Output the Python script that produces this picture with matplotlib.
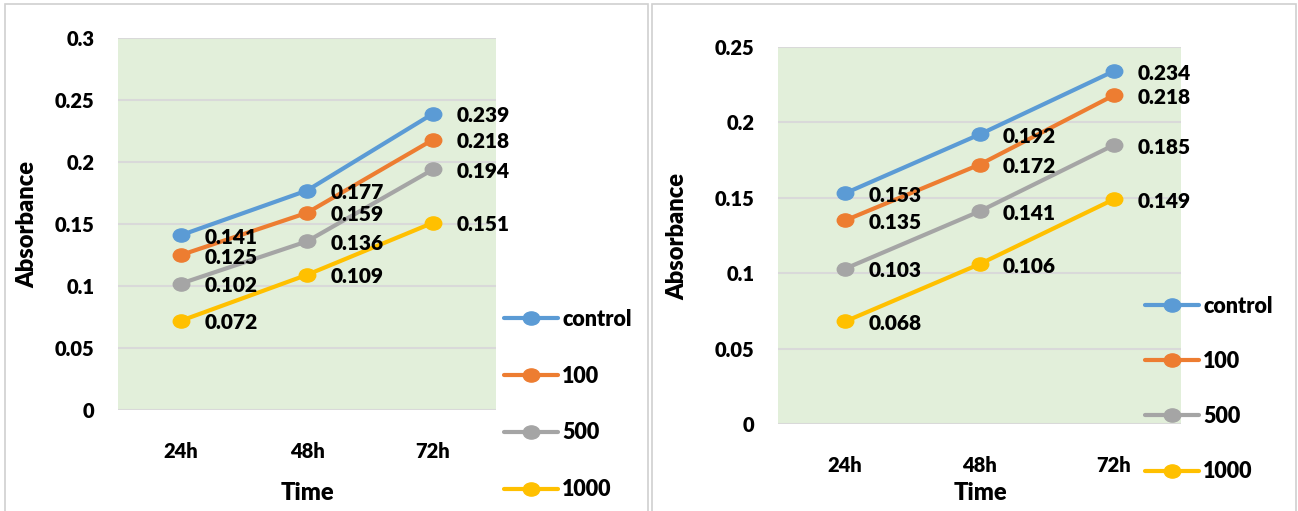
import matplotlib.pyplot as plt
from matplotlib.patches import Rectangle
from matplotlib.markers import MarkerStyle
from matplotlib.transforms import Affine2D

times = ['24h', '48h', '72h']
series_names = ['control', '100', '500', '1000']
colors = ['#5b9bd5', '#ed7d31', '#a5a5a5', '#ffc000']

# absorbance readings, first experiment
left_values = {
    'control': [0.141, 0.177, 0.239],
    '100': [0.125, 0.159, 0.218],
    '500': [0.102, 0.136, 0.194],
    '1000': [0.072, 0.109, 0.151],
}
left_yticks = [0, 0.05, 0.1, 0.15, 0.2, 0.25, 0.3]
left_ylabels = ['0', '0.05', '0.1', '0.15', '0.2', '0.25', '0.3']

# absorbance readings, second experiment
right_values = {
    'control': [0.153, 0.192, 0.234],
    '100': [0.135, 0.172, 0.218],
    '500': [0.103, 0.141, 0.185],
    '1000': [0.068, 0.106, 0.149],
}
right_yticks = [0, 0.05, 0.1, 0.15, 0.2, 0.25]
right_ylabels = ['0', '0.05', '0.1', '0.15', '0.2', '0.25']

plt.rcParams['font.family'] = ['Lato', 'DejaVu Sans']
WEIGHT = 800

W, H = 1298, 511
fig = plt.figure(figsize=(W / 100, H / 100), dpi=100)

# slightly wide round markers
dot = MarkerStyle('o', transform=Affine2D().scale(1.25, 1.0))


def px_axes(x0, x1, ytop, ybot):
    return fig.add_axes([x0 / W, (H - ybot) / H, (x1 - x0) / W, (ybot - ytop) / H])


def draw_panel(ax, values, yticks, ylabels, ylabel_pos, xlabel_pos,
               legend_anchor, legend_gap):
    ax.set_facecolor('#e2efda')
    x = range(len(times))
    for name, c in zip(series_names, colors):
        ys = values[name]
        ax.plot(x, ys, color=c, lw=3.0, marker=dot, ms=9.5, label=name,
                solid_capstyle='round', zorder=3)
        for xi, yi in zip(x, ys):
            ax.annotate(f'{yi:.3f}', (xi, yi), xytext=(17, -1.5),
                        textcoords='offset points', ha='left', va='center',
                        fontsize=15, fontweight=WEIGHT, color='black', zorder=4)
    ax.set_xlim(-0.5, 2.5)
    ax.set_ylim(yticks[0], yticks[-1])
    ax.set_yticks(yticks)
    ax.set_yticklabels(ylabels, fontweight=WEIGHT)
    ax.set_xticks(list(x))
    ax.set_xticklabels(times, fontweight=WEIGHT)
    ax.grid(axis='y', color='#d9d9d9', lw=1.5)
    ax.set_axisbelow(True)
    for s in ax.spines.values():
        s.set_visible(False)
    ax.tick_params(length=0, labelsize=14.5)
    ax.tick_params(axis='y', pad=17)
    ax.tick_params(axis='x', pad=23)
    ax.set_xlabel('Time', fontsize=17, fontweight=WEIGHT, va='center')
    ax.xaxis.set_label_coords(xlabel_pos[0] / W, (H - xlabel_pos[1]) / H,
                              transform=fig.transFigure)
    ax.set_ylabel('Absorbance', fontsize=17, fontweight=WEIGHT, va='center')
    ax.yaxis.set_label_coords(ylabel_pos[0] / W, (H - ylabel_pos[1]) / H,
                              transform=fig.transFigure)
    ax.legend(loc='upper left',
              bbox_to_anchor=(legend_anchor[0] / W, (H - legend_anchor[1]) / H),
              bbox_transform=fig.transFigure, frameon=False,
              prop={'size': 15.5, 'weight': WEIGHT}, handlelength=2.5,
              handletextpad=0.2, labelspacing=legend_gap, borderaxespad=0,
              borderpad=0)


ax1 = px_axes(118, 496, 38, 410)
draw_panel(ax1, left_values, left_yticks, left_ylabels, (27, 224), (307, 493),
           (504, 309), 1.66)

ax2 = px_axes(778, 1181, 47, 424)
draw_panel(ax2, right_values, right_yticks, right_ylabels, (677, 236), (980, 493),
           (1145, 296), 1.58)

# panel frames
for x0, x1 in [(5, 648), (652, 1296)]:
    fig.patches.append(Rectangle((x0 / W, -0.01), (x1 - x0) / W, (H - 4) / H + 0.01,
                                 transform=fig.transFigure, fill=False,
                                 ec='#d0d0d0', lw=1.2))

fig.savefig('out.png', dpi=100)
